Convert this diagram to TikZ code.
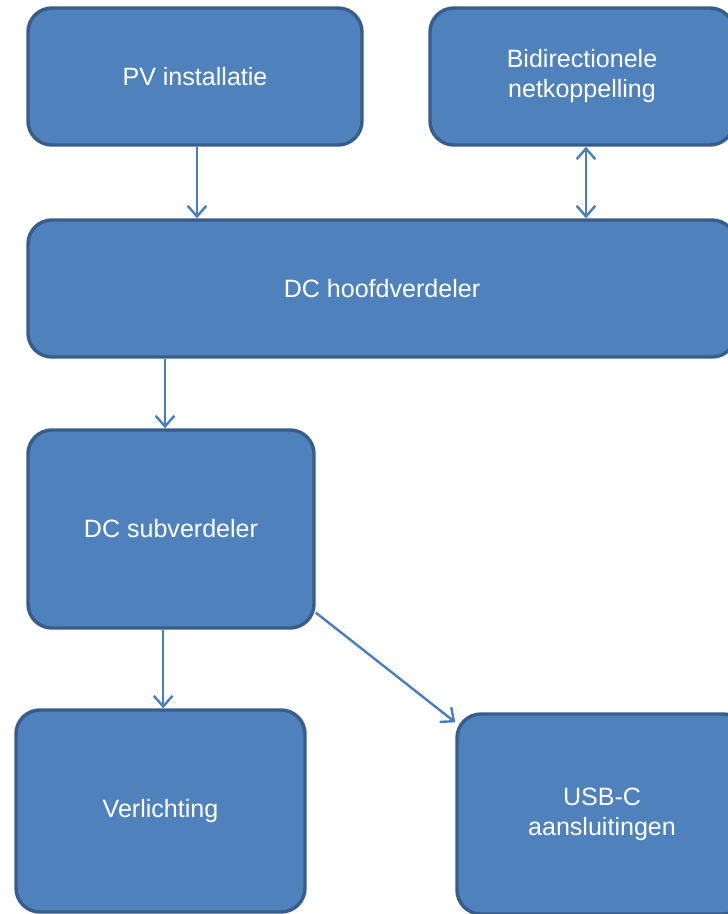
\documentclass[tikz,border=0pt]{standalone}
\usepackage{fontspec}
\setmainfont{Liberation Sans}
\usepackage{tikz}
\usetikzlibrary{arrows.meta,shapes,positioning}
\usepackage{xcolor}
\definecolor{boxblue}{RGB}{79,129,189}
\definecolor{boxedge}{RGB}{56,93,138}
\definecolor{linkblue}{RGB}{74,126,187}
\tikzstyle{link} = [line width=1.8pt,-{Straight Barb[length=8pt,width=14pt]},color=linkblue]
\tikzstyle{verdeler} = [rectangle, rounded corners=18pt, text centered, align=center, draw=boxedge, fill=boxblue, line width=2.6pt, text=white, font=\fontsize{18.8}{22.5}\selectfont]

\begin{document}
\begin{tikzpicture}[x=0.75pt,y=-0.75pt]
\useasboundingbox (0,0) rectangle (728,914);
\clip (0,0) rectangle (728,914);
% Top row
\node[verdeler, minimum width=250.5pt, minimum height=102.75pt] (pv) at (195,76.5) {PV installatie};
\node[verdeler, minimum width=228pt, minimum height=102.75pt] (net) at (582,76.5) {Bidirectionele\\netkoppelling};

% Main distribution
\node[verdeler, minimum width=531pt, minimum height=102.75pt] (hoofd) at (382,288.5) {DC hoofdverdeler};

% Sub distribution
\node[verdeler, minimum width=214.5pt, minimum height=148.5pt] (sub) at (171,529) {DC subverdeler};

% Loads
\node[verdeler, minimum width=216.75pt, minimum height=151.5pt] (verl) at (160.5,811) {Verlichting};
\node[verdeler, minimum width=217.5pt, minimum height=150pt] (usb) at (602,814) {USB-C\\aansluitingen};

% Arrows
\draw[link] ([xshift=1.5pt]pv.south) -- ([xshift=1.5pt]pv.south |- hoofd.north);
\draw[link, {Straight Barb[length=8pt,width=14pt]}-{Straight Barb[length=8pt,width=14pt]}] ([xshift=3pt]net.south) -- ([xshift=3pt]net.south |- hoofd.north);
\draw[link] ([xshift=-4.5pt]sub.north |- hoofd.south) -- ([xshift=-4.5pt]sub.north);
\draw[link] ([xshift=2pt]verl.north |- sub.south) -- ([xshift=2pt]verl.north);
\draw[link] (sub.-30.7) -- (usb.148);
\end{tikzpicture}
\end{document}
